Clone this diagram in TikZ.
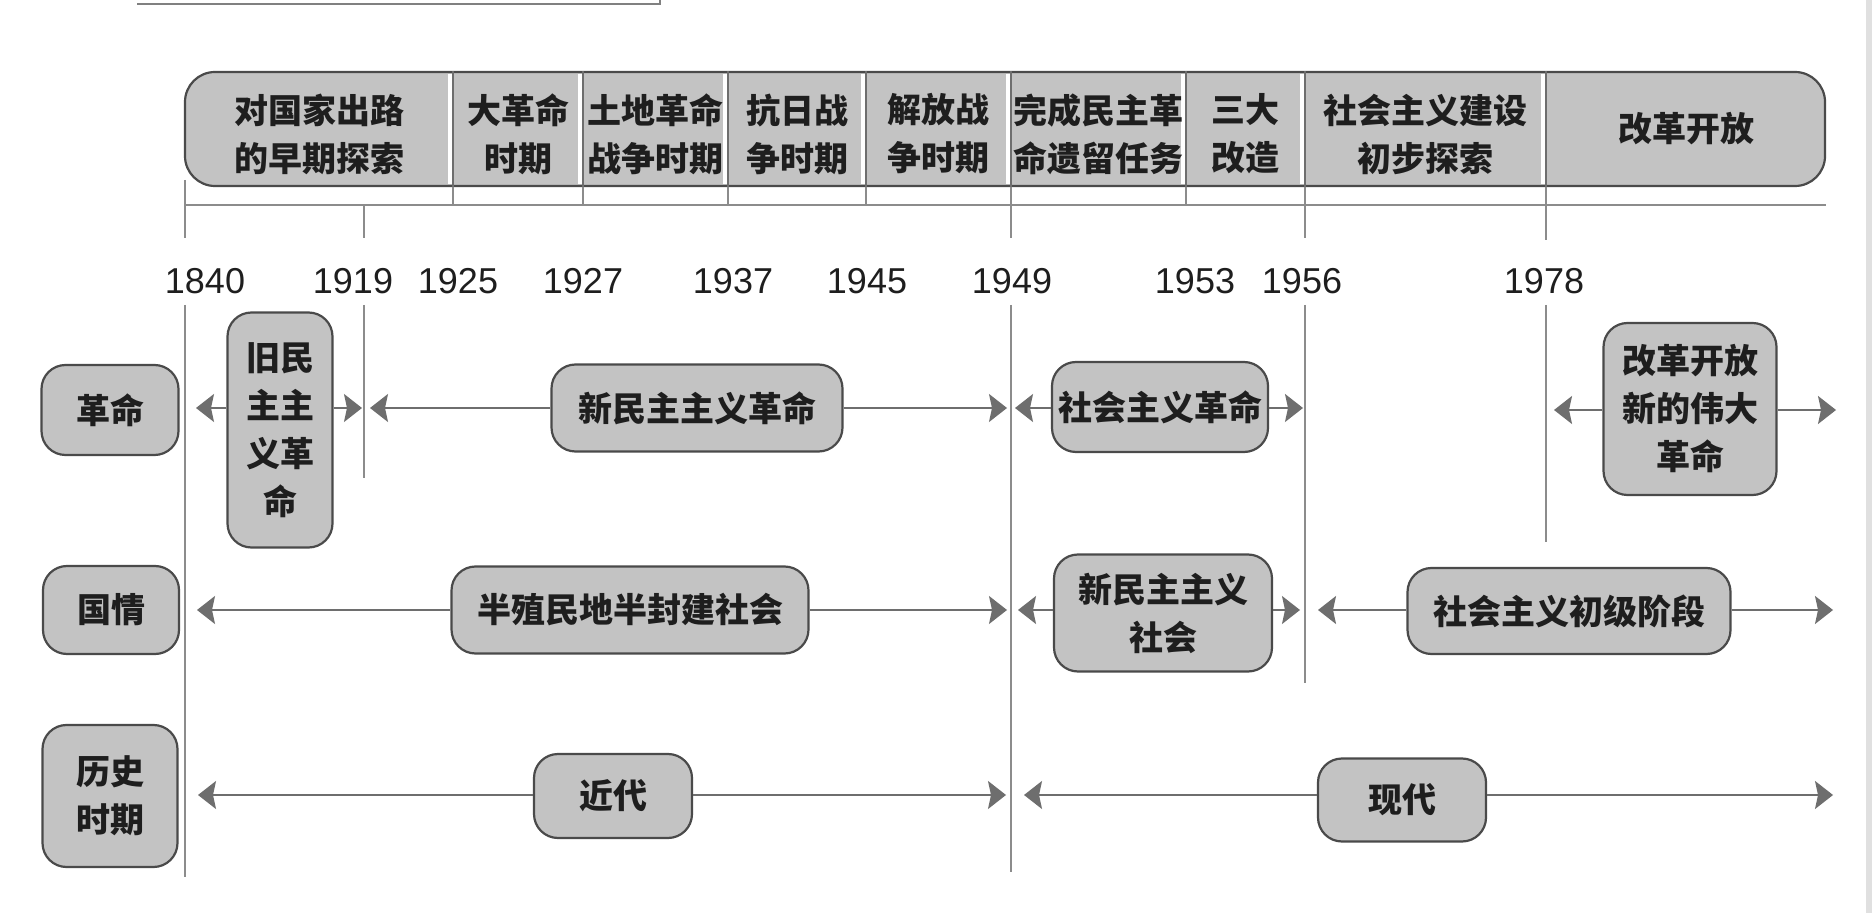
\documentclass[tikz,border=0pt]{standalone}
\usepackage{fontspec}
\newfontfamily\cjk{Noto Sans CJK SC}
\newfontfamily\yearfont{Liberation Sans}
\usepackage{tikz}
\usetikzlibrary{arrows.meta, positioning, calc}
\definecolor{boxgray}{HTML}{C3C3C3}
\definecolor{boxedge}{HTML}{4A4A4A}
\definecolor{linegray}{HTML}{8C8C8C}
\definecolor{arrowgray}{HTML}{6E6E6E}
\definecolor{textdark}{HTML}{1E1E1E}
\tikzset{
  bandbox/.style={draw=boxedge, line width=1.1pt, fill=boxgray, rounded corners=15pt,
                  inner sep=0pt},
  stagetext/.style={font={\cjk\bfseries\fontsize{17}{24}\selectfont}, text=textdark,
                    align=center, inner sep=0pt},
  rowbox/.style={draw=boxedge, line width=1.1pt, fill=boxgray, rounded corners=12pt,
                 font={\cjk\bfseries\fontsize{17}{24}\selectfont}, text=textdark,
                 align=center, inner sep=0pt},
  yearlbl/.style={font={\yearfont\fontsize{18}{18}\selectfont}, text=textdark, inner sep=0pt},
  yearline/.style={draw=linegray, line width=0.55pt},
  divline/.style={draw=boxedge!80, line width=0.7pt},
  arr/.style={-{Stealth[length=9pt, width=14pt, inset=1.5pt]}, line width=0.8pt, arrowgray},
}

\begin{document}
\begin{tikzpicture}[x=0.5pt, y=-0.5pt]

  \useasboundingbox (0,0) rectangle (1872,913);
  \fill[white] (0,0) rectangle (1872,913);
  %% scan edges
  \fill[black!12] (1866,0) rectangle (1872,913);
  \draw[boxedge!70, line width=1.3pt] (137,4) -- (660,4) -- (660,0);

  %% Year positions on the scale line
  \coordinate (t1840) at (185,205);
  \coordinate (t1919) at (364,205);
  \coordinate (t1925) at (453,205);
  \coordinate (t1927) at (583,205);
  \coordinate (t1937) at (728,205);
  \coordinate (t1945) at (866,205);
  \coordinate (t1949) at (1011,205);
  \coordinate (t1953) at (1186,205);
  \coordinate (t1956) at (1305,205);
  \coordinate (t1978) at (1546,205);

  %% Stage band
  \node[bandbox, minimum width=820pt, minimum height=57pt] (band) at (1005,129) {};
  \draw[yearline] (t1840) -- (band.east |- t1840);

  \draw[white, line width=1.6pt] ($(band.north -| t1925)+(-3,3)$) -- ($(band.south -| t1925)+(-3,-3)$);
  \draw[white, line width=1.6pt] ($(band.north -| t1927)+(-3,3)$) -- ($(band.south -| t1927)+(-3,-3)$);
  \draw[white, line width=1.6pt] ($(band.north -| t1937)+(-3,3)$) -- ($(band.south -| t1937)+(-3,-3)$);
  \draw[white, line width=1.6pt] ($(band.north -| t1945)+(-3,3)$) -- ($(band.south -| t1945)+(-3,-3)$);
  \draw[white, line width=1.6pt] ($(band.north -| t1949)+(-3,3)$) -- ($(band.south -| t1949)+(-3,-3)$);
  \draw[white, line width=1.6pt] ($(band.north -| t1953)+(-3,3)$) -- ($(band.south -| t1953)+(-3,-3)$);
  \draw[white, line width=1.6pt] ($(band.north -| t1956)+(-3,3)$) -- ($(band.south -| t1956)+(-3,-3)$);
  \draw[white, line width=1.6pt] ($(band.north -| t1978)+(-3,3)$) -- ($(band.south -| t1978)+(-3,-3)$);

  \draw[divline] (band.north -| t1925) -- (band.south -| t1925);
  \draw[divline] (band.north -| t1927) -- (band.south -| t1927);
  \draw[divline] (band.north -| t1937) -- (band.south -| t1937);
  \draw[divline] (band.north -| t1945) -- (band.south -| t1945);
  \draw[divline] (band.north -| t1949) -- (band.south -| t1949);
  \draw[divline] (band.north -| t1953) -- (band.south -| t1953);
  \draw[divline] (band.north -| t1956) -- (band.south -| t1956);
  \draw[divline] (band.north -| t1978) -- (band.south -| t1978);

  \node[stagetext] (tansuo)   at (319,134)  {对国家出路\\的早期探索};
  \node[stagetext] (dageming) at (518,134)  {大革命\\时期};
  \node[stagetext] (tudi)     at (655,134)  {土地革命\\战争时期};
  \node[stagetext] (kangri)   at (797,134)  {抗日战\\争时期};
  \node[stagetext] (jiefang)  at (938,134)  {解放战\\争时期};
  \node[stagetext] (wancheng) at (1098,134) {完成民主革\\命遗留任务};
  \node[stagetext] (sanda)    at (1245,134) {三大\\改造};
  \node[stagetext] (jianshe)  at (1425,134) {社会主义建设\\初步探索};
  \node[stagetext] (gaige)    at (1686,129) {改革开放};

  %% Ticks between band and scale line, and below it
  \draw[yearline] (band.south -| t1925) -- (t1925);
  \draw[yearline] (band.south -| t1927) -- (t1927);
  \draw[yearline] (band.south -| t1937) -- (t1937);
  \draw[yearline] (band.south -| t1945) -- (t1945);
  \draw[yearline] (band.south -| t1949) -- (t1949);
  \draw[yearline] (band.south -| t1953) -- (t1953);
  \draw[yearline] (band.south -| t1956) -- (t1956);
  \draw[yearline] (band.south -| t1978) -- (t1978);
  \draw[yearline] (t1840 |- 0,180) -- ++(0,58);
  \draw[yearline] (t1919) -- ++(0,33);
  \draw[yearline] (t1949) -- ++(0,33);
  \draw[yearline] (t1956) -- ++(0,33);
  \draw[yearline] (t1978) -- ++(0,35);

  %% Year labels
  \node[yearlbl] (y1840) at (205,281)  {1840};
  \node[yearlbl] (y1919) at (353,281)  {1919};
  \node[yearlbl] (y1925) at (458,281)  {1925};
  \node[yearlbl] (y1927) at (583,281)  {1927};
  \node[yearlbl] (y1937) at (733,281)  {1937};
  \node[yearlbl] (y1945) at (867,281)  {1945};
  \node[yearlbl] (y1949) at (1012,281) {1949};
  \node[yearlbl] (y1953) at (1195,281) {1953};
  \node[yearlbl] (y1956) at (1302,281) {1956};
  \node[yearlbl] (y1978) at (1544,281) {1978};

  %% Long period lines
  \draw[yearline] (185,305)  -- (185,877);
  \draw[yearline] (364,305)  -- (364,478);
  \draw[yearline] (1011,305) -- (1011,872);
  \draw[yearline] (1305,305) -- (1305,683);
  \draw[yearline] (1546,305) -- (1546,542);

  %% Row labels
  \node[rowbox, minimum width=68.5pt, minimum height=45pt] (geming)  at (110,410) {革命};
  \node[rowbox, minimum width=68pt,   minimum height=44pt] (guoqing) at (111,610) {国情};
  \node[rowbox, minimum width=67.5pt, minimum height=71pt] (lishi)   at (110,796) {历史\\时期};

  %% Row 1: revolution
  \node[rowbox, minimum width=52.5pt,  minimum height=117.5pt] (jiuminzhu) at (280,430)  {旧民\\主主\\义革\\命};
  \node[rowbox, minimum width=145.5pt, minimum height=43.5pt]  (xinminzhu) at (697,408)  {新民主主义革命};
  \node[rowbox, minimum width=108pt,   minimum height=45pt]    (shehuigm)  at (1160,407) {社会主义革命};
  \node[rowbox, minimum width=86.5pt,  minimum height=86pt]    (gaigegm)   at (1690,409) {改革开放\\新的伟大\\革命};

  \coordinate (r1a) at (196,408);
  \coordinate (r1b) at (362,408);
  \coordinate (r1c) at (370,408);
  \coordinate (r1d) at (1007,408);
  \coordinate (r1e) at (1015,408);
  \coordinate (r1f) at (1303,408);
  \coordinate (r1g) at (1554,410);
  \coordinate (r1h) at (1836,410);

  \draw[arr] (jiuminzhu.west |- r1a) -- (r1a);
  \draw[arr] (jiuminzhu.east |- r1b) -- (r1b);
  \draw[arr] (xinminzhu.west) -- (r1c);
  \draw[arr] (xinminzhu.east) -- (r1d);
  \draw[arr] (shehuigm.west |- r1e) -- (r1e);
  \draw[arr] (shehuigm.east |- r1f) -- (r1f);
  \draw[arr] (gaigegm.west |- r1g) -- (r1g);
  \draw[arr] (gaigegm.east |- r1h) -- (r1h);

  %% Row 2: national condition
  \node[rowbox, minimum width=178.5pt, minimum height=43.5pt] (banzhi) at (630,610)  {半殖民地半封建社会};
  \node[rowbox, minimum width=109pt,   minimum height=58.5pt] (xinshe) at (1163,613) {新民主主义\\社会};
  \node[rowbox, minimum width=161.5pt, minimum height=43pt]   (chuji)  at (1569,611) {社会主义初级阶段};

  \coordinate (r2a) at (197,610);
  \coordinate (r2b) at (1007,610);
  \coordinate (r2c) at (1018,610);
  \coordinate (r2d) at (1300,610);
  \coordinate (r2e) at (1318,610);
  \coordinate (r2f) at (1833,610);

  \draw[arr] (banzhi.west) -- (r2a);
  \draw[arr] (banzhi.east) -- (r2b);
  \draw[arr] (xinshe.west |- r2c) -- (r2c);
  \draw[arr] (xinshe.east |- r2d) -- (r2d);
  \draw[arr] (chuji.west |- r2e) -- (r2e);
  \draw[arr] (chuji.east |- r2f) -- (r2f);

  %% Row 3: historical period
  \node[rowbox, minimum width=79pt, minimum height=42pt]   (jindai)  at (613,796)  {近代};
  \node[rowbox, minimum width=84pt, minimum height=41.5pt] (xiandai) at (1402,800) {现代};

  \coordinate (r3a) at (198,795);
  \coordinate (r3b) at (1006,795);
  \coordinate (r3c) at (1024,795);
  \coordinate (r3d) at (1833,795);

  \draw[arr] (jindai.west |- r3a) -- (r3a);
  \draw[arr] (jindai.east |- r3b) -- (r3b);
  \draw[arr] (xiandai.west |- r3c) -- (r3c);
  \draw[arr] (xiandai.east |- r3d) -- (r3d);

\end{tikzpicture}
\end{document}
